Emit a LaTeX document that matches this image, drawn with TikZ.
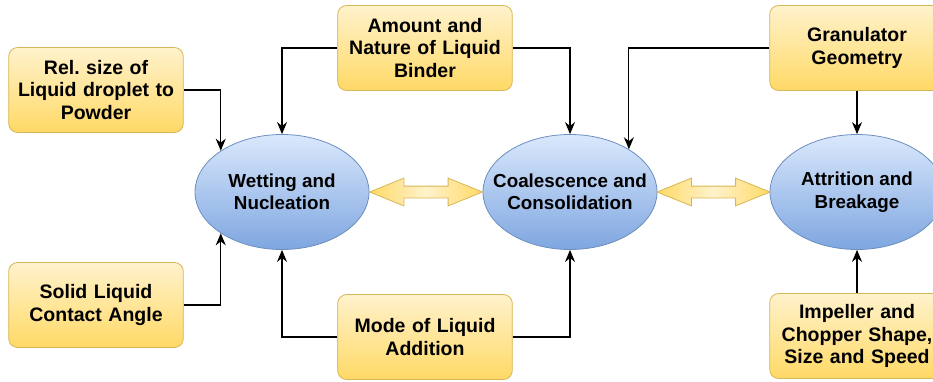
\documentclass[tikz,border=0pt]{standalone}
\usepackage{fontspec}
\setmainfont{Liberation Sans}
\usepackage{tikz}
\usetikzlibrary{arrows.meta,shapes.geometric,shapes.arrows,positioning,calc}

\definecolor{boxline}{HTML}{D6B656}
\definecolor{boxtop}{HTML}{FFF2CC}
\definecolor{boxbot}{HTML}{FFD966}
\definecolor{ellline}{HTML}{6C8EBF}
\definecolor{elltop}{HTML}{DAE8FC}
\definecolor{ellbot}{HTML}{7EA6E0}
\frenchspacing

\begin{document}
\begin{tikzpicture}[
    x = 1pt, y = -1pt, % pixel grid, y going down
    >= {Stealth[length=12pt,width=10pt]},
    line width = 1.2pt, % line style
    ]

    \tikzset{factor/.style={
    rectangle, rounded corners = 9pt,
    draw = boxline, line width = 0.8pt,
    top color = boxtop, bottom color = boxbot,
    minimum width = 173pt, minimum height = 85pt,
    text width = 168pt, align = center,
    font = \fontsize{19.5}{22.5}\selectfont\bfseries
    }}
    \tikzset{stage/.style={
    ellipse, draw = ellline, line width = 0.8pt,
    top color = elltop, bottom color = ellbot,
    minimum width = 174pt, minimum height = 115pt,
    inner sep = 0pt
    }}
    \tikzset{stagetext/.style={
    align = center, inner sep = 0pt,
    font = \fontsize{18.8}{22.5}\selectfont\bfseries
    }}
    \tikzset{link/.style={
    double arrow, draw = boxline, line width = 0.8pt,
    left color = boxbot, right color = boxbot, middle color = boxtop,
    minimum height = 113pt, minimum width = 0pt,
    inner xsep = 0pt, inner ysep = 5.5pt, font = \tiny,
    double arrow head extend = 8pt,
    double arrow tip angle = 44
    }}

    \clip (0,0) rectangle (933,381);

    % stages
    \node[stage, label={[stagetext]center:Wetting and\\Nucleation}] (wet) at (282,192) {};
    \node[stage, label={[stagetext]center:Coalescence and\\Consolidation}] (coal) at (570,192) {};
    \node[stage, label={[stagetext]center:Attrition and\\Breakage}] (attr) at (857,192) {};

    % factors
    \node[factor] (size) at (96,90) {Rel. size of\\Liquid droplet to\\Powder};
    \node[factor] (angle) at (96,305) {Solid Liquid\\Contact Angle};
    \node[factor] (binder) at (425,48) {Amount and\\Nature of Liquid\\Binder};
    \node[factor] (mode) at (425,337) {Mode of Liquid\\Addition};
    \node[factor] (geom) at (857,48) {Granulator\\Geometry};
    \node[factor] (imp) at (857,336) {Impeller and\\Chopper Shape,\\Size and Speed};

    % double arrows between stages
    \node[link] (l1) at ($(wet.east)!0.5!(coal.west)$) {};
    \node[link] (l2) at ($(coal.east)!0.5!(attr.west)$) {};

    \draw[->] (size.east) -| (wet.146);
    \draw[->] (angle.east) -| (wet.214);
    \draw[->] (binder.west) -| (wet.north);
    \draw[->] (mode.west) -| (wet.south);
    \draw[->] (binder.east) -| (coal.north);
    \draw[->] (mode.east) -| (coal.south);
    \draw[->] (geom.west) -| (coal.36);
    \draw[->] (geom.south) -- (attr.north);
    \draw[->] (imp.north) -- (attr.south);
\end{tikzpicture}
\end{document}
